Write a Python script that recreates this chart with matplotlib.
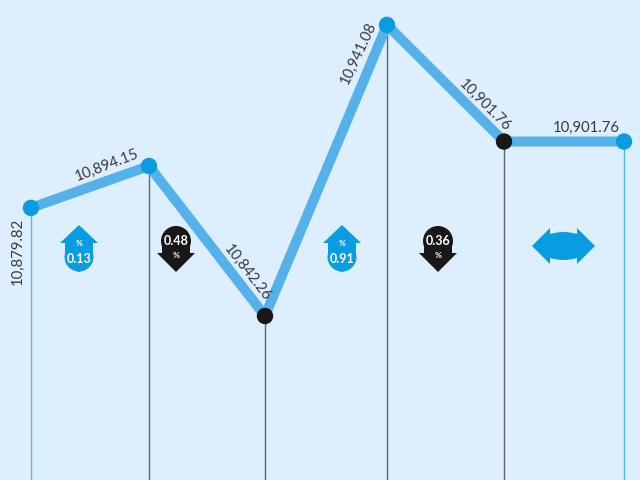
import matplotlib
matplotlib.use("Agg")
import matplotlib.pyplot as plt
import numpy as np
from matplotlib.patches import Circle, Polygon

# data
x_pos = [31, 149, 265, 387, 504, 624]
labels = ["10,879.82", "10,894.15", "10,842.26", "10,941.08", "10,901.76", "10,901.76"]
levels = [10878.97, 10893.2, 10842.26, 10941.08, 10901.5, 10901.5]
changes = ["0.13", "0.48", "0.91", "0.36"]
directions = ["up", "down", "up", "down"]

bg = "#DDEEFE"
line_col = "#55B1E9"
blue = "#0A9CE0"
black = "#1A1718"

plt.rcParams["font.family"] = ["Lato", "DejaVu Sans"]

fig = plt.figure(figsize=(6.4, 4.8), dpi=100, facecolor=bg)
ax = fig.add_axes([0, 0, 1, 1])
ax.set_xlim(0, 640)
ax.set_ylim(10786.57, 10949.56)
ax.axis("off")

# stems go from the point down to the bottom edge
dot_cols = [blue, blue, black, blue, black, blue]
stem_cols = ["#4FBDF2", "#666666", "#666666", "#666666", "#666666", "#4FBDF2"]
ax.vlines(x_pos, 10786.57, levels, colors=stem_cols, lw=1.0, zorder=1)
ax.plot(x_pos, levels, color=line_col, lw=7.2, solid_joinstyle="miter", zorder=2)
ax.scatter(x_pos, levels, s=140, c=dot_cols, linewidths=0, zorder=3)

# overlay in pixel units for the labels and the arrow badges
ov = fig.add_axes([0, 0, 1, 1])
ov.set_xlim(0, 640)
ov.set_ylim(480, 0)
ov.axis("off")
ov.patch.set_alpha(0)

label_xy = [(18, 251), (107, 165), (247, 273), (358, 53), (485, 105), (586, 128)]
label_rot = [90, 21, -52, 65, -45, 0]
for (lx, ly), rot, txt in zip(label_xy, label_rot, labels):
    ov.text(lx, ly, txt, rotation=rot, rotation_mode="anchor", ha="center", va="center",
            fontsize=10.7, color="#3A3A3A", fontweight="normal", zorder=5)


def up_arrow(cx, val):
    ov.add_patch(Polygon([(cx, 225), (cx + 19, 243), (cx + 14, 243), (cx + 14, 258),
                          (cx - 14, 258), (cx - 14, 243), (cx - 19, 243)], fc=blue, ec="none"))
    ov.add_patch(Circle((cx, 257), 14.5, fc=blue, ec="none"))
    ov.add_patch(Polygon([(cx - 5, 270), (cx + 5, 270), (cx, 272)], fc=blue, ec="none"))
    ov.text(cx, 244, "%", color="white", fontsize=6, fontweight="bold", ha="center", va="center")
    ov.text(cx, 259, val, color="white", fontsize=9, fontweight="bold", ha="center", va="center")


def down_arrow(cx, val):
    ov.add_patch(Polygon([(cx, 272), (cx + 19, 253), (cx + 14, 253), (cx + 14, 240),
                          (cx - 14, 240), (cx - 14, 253), (cx - 19, 253)], fc=black, ec="none"))
    ov.add_patch(Circle((cx, 241), 15, fc=black, ec="none"))
    ov.text(cx, 241, val, color="white", fontsize=9, fontweight="bold", ha="center", va="center")
    ov.text(cx, 256, "%", color="white", fontsize=6, fontweight="bold", ha="center", va="center")


arrow_x = [79, 176, 342, 438]
for cx, val, d in zip(arrow_x, changes, directions):
    if d == "up":
        up_arrow(cx, val)
    else:
        down_arrow(cx, val)

# flat day: double headed arrow with wavy body
t = np.linspace(0, 1, 20)
wave = 2 * np.sin(np.pi * t)
xs = 550 + 27 * t
top = list(zip(xs, 234 - wave))
bot = list(zip(xs[::-1], (258 + wave)[::-1]))
shape = [(532, 246), (550, 228)] + top + [(577, 228), (595, 246), (577, 264)] + bot + [(550, 264)]
ov.add_patch(Polygon(shape, fc=blue, ec="none"))

fig.savefig("out.png", dpi=100, facecolor=bg)
